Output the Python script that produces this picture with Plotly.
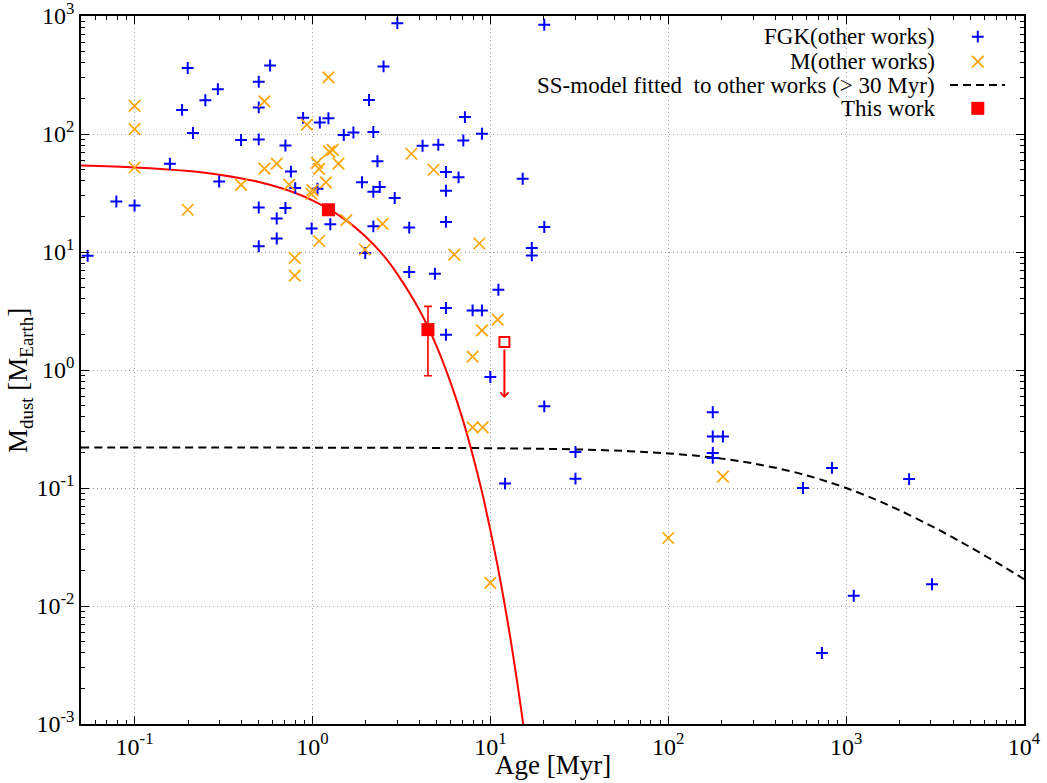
import numpy as np
import plotly.graph_objects as go

# ---------------- data ----------------
fgk_age = [0.0545, 0.079, 0.1, 0.158, 0.185, 0.199, 0.213, 0.25, 0.294, 0.299,
           0.397, 0.499, 0.499, 0.499, 0.499, 0.499, 0.578, 0.63, 0.63, 0.705,
           0.757, 0.705, 0.8, 0.886, 0.99, 1.067, 1.1, 1.26, 1.23, 1.5,
           1.7, 2.2, 3.0, 20.1, 2.51, 2.08, 7.2, 8.97, 7.05, 5.1,
           4.16, 2.32, 5.63, 6.63, 5.63, 1.9, 2.39, 2.2, 2.9, 15.2,
           5.63, 20.1, 2.2, 3.5, 17.1, 17.1, 1.98, 3.5, 4.88, 11.1,
           5.63, 7.95, 8.97, 5.63, 10.0, 20.1, 30.1, 30.1, 12.1, 178,
           178, 203, 178, 178, 833, 572, 2260, 3040, 1104, 731]
fgk_mass = [9.3, 26.8, 24.8, 56, 160, 362, 102, 193, 240, 39.6,
            89, 277, 168, 90, 23.8, 11.2, 381, 19.2, 13, 80,
            48, 23.6, 34.8, 137, 15.8, 34.4, 125, 17.2, 136, 98,
            103, 104, 870, 843, 374, 194, 139, 100.6, 88, 81,
            79.5, 58.8, 47.6, 42.9, 33, 39, 35.6, 32.4, 28.7, 41.8,
            18, 16.3, 16.5, 16.1, 10.8, 9.36, 9.8, 6.77, 6.55, 4.79,
            3.35, 3.2, 3.2, 1.99, 0.873, 0.492, 0.202, 0.12, 0.109, 0.438,
            0.273, 0.273, 0.198, 0.18, 0.148, 0.1, 0.119, 0.0153, 0.0122, 0.004]

m_age = [0.1, 0.1, 0.1, 0.199, 0.397, 0.537, 0.537, 0.63, 0.74, 0.795,
         0.795, 0.93, 1.0, 0.99, 1.06, 1.09, 1.09, 1.19, 1.23, 1.24,
         1.3, 1.4, 1.55, 2.48, 1.97, 3.6, 4.8, 6.27, 8.67, 11.0,
         8.97, 7.95, 7.95, 9.05, 10.0, 100, 203]
m_mass = [173, 110, 52, 22.8, 37, 189, 50.8, 56, 37.2, 8.9,
          6.3, 120, 33.5, 31, 57, 50.6, 12.4, 38.9, 302, 71,
          73.5, 56, 18.6, 17.3, 10.5, 68, 49.8, 9.5, 11.8, 2.67,
          2.17, 1.3, 0.327, 0.327, 0.0157, 0.0377, 0.125]

this_age = [1.23, 4.46]
this_mass = [22.8, 2.2]
this_upper = [22.8, 3.46]
this_lower = [22.8, 0.895]

limit_age = [12.0]
limit_mass = [1.73]
limit_arrow_to = [0.58]

# model curves
red_age = [0.05, 0.1, 0.2, 0.3, 0.5, 0.7, 1.0, 1.5, 2.0, 2.5, 3.0, 4.0, 5.0,
           6.0, 7.0, 8.0, 9.0, 10.0, 11.0, 12.0, 13.0, 14.0, 15.0, 16.0]
red_mass = [54.0, 52.1, 48.6, 45.2, 39.2, 34.0, 27.4, 19.2, 13.4, 9.4, 6.5,
            3.21, 1.58, 0.77, 0.38, 0.185, 0.091, 0.044, 0.0217, 0.0106,
            0.0052, 0.00254, 0.00124, 0.00061]

ss_age = [0.05, 1, 10, 30, 60, 100, 150, 200, 300, 500, 700, 1000, 1500,
          2000, 3000, 4000, 5000, 7000, 10000]
ss_mass = [0.22, 0.2197, 0.2174, 0.2124, 0.2052, 0.1964, 0.1864, 0.1774,
           0.1617, 0.1375, 0.1195, 0.1, 0.0786, 0.0647, 0.0478, 0.0379,
           0.0314, 0.0234, 0.0169]

x_tick_vals = [0.1, 1, 10, 100, 1000, 10000]
x_tick_labels = ["10<sup>-1</sup>", "10<sup>0</sup>", "10<sup>1</sup>",
                 "10<sup>2</sup>", "10<sup>3</sup>", "10<sup>4</sup>"]
y_tick_vals = [1e-3, 1e-2, 1e-1, 1, 10, 100, 1000]
y_tick_labels = ["10<sup>-3</sup>", "10<sup>-2</sup>", "10<sup>-1</sup>",
                 "10<sup>0</sup>", "10<sup>1</sup>", "10<sup>2</sup>",
                 "10<sup>3</sup>"]

x_title = "Age [Myr]"
y_title = "M<sub>dust</sub> [M<sub>Earth</sub>]"
legend_labels = ["FGK(other works)", "M(other works)",
                 "SS-model fitted\u00a0 to other works (> 30 Myr)", "This work"]

# ---------------- styling ----------------
FONT = "Liberation Serif, Times New Roman, serif"
FS_TICK = 24
FS_TITLE = 27
FS_LEG = 23
BLUE = "#0000FF"
ORANGE = "#FFA500"
RED = "#FF0000"

x_range = [np.log10(0.05), 4]
y_range = [-3, 3]

def minor_vals(lo, hi):
    out = []
    for p in range(lo, hi):
        for k in range(2, 10):
            out.append(k * 10.0 ** p)
    return out

fig = go.Figure()

# model curves
fig.add_trace(go.Scatter(x=ss_age, y=ss_mass, mode="lines",
                         line=dict(color="black", width=2, dash="8px,5px", shape="spline"),
                         hoverinfo="skip"))
fig.add_trace(go.Scatter(x=red_age, y=red_mass, mode="lines",
                         line=dict(color=RED, width=2, shape="spline", smoothing=0.8),
                         hoverinfo="skip"))

# other works
fig.add_trace(go.Scatter(x=fgk_age, y=fgk_mass, mode="markers",
                         marker=dict(symbol="cross-thin", size=8.5,
                                     line=dict(color=BLUE, width=2), color=BLUE)))
fig.add_trace(go.Scatter(x=m_age, y=m_mass, mode="markers",
                         marker=dict(symbol="x-thin", size=11.5,
                                     line=dict(color=ORANGE, width=1.7), color=ORANGE)))

# this work
err_plus = [u - m for u, m in zip(this_upper, this_mass)]
err_minus = [m - l for l, m in zip(this_lower, this_mass)]
fig.add_trace(go.Scatter(x=this_age, y=this_mass, mode="markers",
                         marker=dict(symbol="square", size=13, color=RED),
                         error_y=dict(type="data", symmetric=False, array=err_plus,
                                      arrayminus=err_minus, color=RED,
                                      thickness=1.6, width=4)))
fig.add_trace(go.Scatter(x=limit_age, y=limit_mass, mode="markers",
                         marker=dict(symbol="square-open", size=10, color=RED,
                                     line=dict(color=RED, width=2))))
fig.add_annotation(x=np.log10(limit_age[0]), y=np.log10(limit_arrow_to[0]),
                   ax=np.log10(limit_age[0]), ay=np.log10(limit_mass[0]),
                   xref="x", yref="y", axref="x", ayref="y", text="",
                   showarrow=True, arrowhead=4, arrowsize=0.8, arrowwidth=2,
                   arrowcolor=RED, startstandoff=6)

# ---------------- custom legend (text left, key right) ----------------
leg_text_x = 0.9074
leg_key_x = 0.951
leg_rows = [0.9708, 0.9355, 0.9025, 0.8696]
for lab, yy in zip(legend_labels, leg_rows):
    fig.add_annotation(x=leg_text_x, y=yy, xref="paper", yref="paper",
                       text=lab, showarrow=False, xanchor="right", yanchor="middle",
                       font=dict(family=FONT, size=FS_LEG, color="black"))
fig.add_trace(go.Scatter(x=[leg_key_x], y=[leg_rows[0]], xaxis="x2", yaxis="y2",
                         mode="markers",
                         marker=dict(symbol="cross-thin", size=8.5,
                                     line=dict(color=BLUE, width=2), color=BLUE)))
fig.add_trace(go.Scatter(x=[leg_key_x], y=[leg_rows[1]], xaxis="x2", yaxis="y2",
                         mode="markers",
                         marker=dict(symbol="x-thin", size=11.5,
                                     line=dict(color=ORANGE, width=1.7), color=ORANGE)))
fig.add_trace(go.Scatter(x=[0.9215, 0.9799], y=[leg_rows[2], leg_rows[2]],
                         xaxis="x2", yaxis="y2", mode="lines",
                         line=dict(color="black", width=2, dash="8px,5px")))
fig.add_trace(go.Scatter(x=[leg_key_x], y=[leg_rows[3]], xaxis="x2", yaxis="y2",
                         mode="markers",
                         marker=dict(symbol="square", size=13, color=RED)))

# ---------------- axis titles ----------------
fig.add_annotation(x=0.5, y=-0.058, xref="paper", yref="paper", text=x_title,
                   showarrow=False, xanchor="center", yanchor="middle",
                   font=dict(family=FONT, size=FS_TITLE, color="black"))
fig.add_annotation(x=-0.0647, y=0.486, xref="paper", yref="paper", text=y_title,
                   showarrow=False, xanchor="center", yanchor="middle", textangle=-90,
                   font=dict(family=FONT, size=FS_TITLE, color="black"))

axis_common = dict(
    type="log", tickmode="array", ticks="inside", ticklen=8, tickwidth=1,
    tickcolor="black", mirror="allticks", showline=True, linecolor="black",
    linewidth=1.5, showgrid=True, gridcolor="#a0a0a0", griddash="1px,3px",
    gridwidth=1, zeroline=False, automargin=False, ticklabeloverflow="allow",
    tickfont=dict(family=FONT, size=FS_TICK, color="black"),
)

fig.update_layout(
    width=1047, height=783,
    margin=dict(l=81, r=23, t=16, b=59),
    plot_bgcolor="white", paper_bgcolor="white",
    showlegend=False,
    font=dict(family=FONT, size=FS_TICK, color="black"),
    xaxis=dict(**axis_common, range=x_range, tickvals=x_tick_vals,
               ticktext=x_tick_labels, ticklabelstandoff=0,
               minor=dict(tickmode="array", tickvals=minor_vals(-2, 4),
                          ticks="inside", ticklen=4, tickcolor="black", showgrid=False)),
    yaxis=dict(**axis_common, range=y_range, tickvals=y_tick_vals,
               ticktext=y_tick_labels, ticklabelstandoff=0,
               minor=dict(tickmode="array", tickvals=minor_vals(-3, 3),
                          ticks="inside", ticklen=4, tickcolor="black", showgrid=False)),
    xaxis2=dict(overlaying="x", anchor="y2", range=[0, 1], visible=False),
    yaxis2=dict(overlaying="y", anchor="x2", range=[0, 1], visible=False),
)

fig.write_html("out.html")
